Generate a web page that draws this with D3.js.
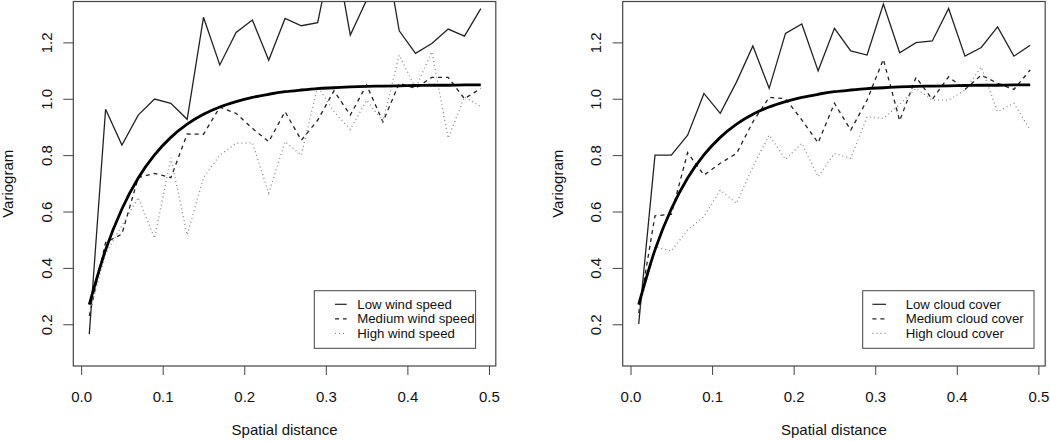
<!DOCTYPE html>
<html>
<head>
<meta charset="utf-8">
<title>Variogram by wind speed and cloud cover</title>
<script src="https://cdn.jsdelivr.net/npm/d3@7"></script>
<style>
  body { margin: 0; background: #fff; }
  svg text { font-family: "Liberation Sans", Arial, sans-serif; fill: #111; }
</style>
</head>
<body>
<svg id="svg"></svg>
<script>
// lag distances (bin centres)
var distances = [0.01, 0.03, 0.05, 0.07, 0.09, 0.11, 0.13, 0.15, 0.17, 0.19, 0.21, 0.23, 0.25,
                 0.27, 0.29, 0.31, 0.33, 0.35, 0.37, 0.39, 0.41, 0.43, 0.45, 0.47, 0.49];

// left panel: wind speed classes
var windLow    = [0.165, 0.963, 0.836, 0.942, 0.999, 0.984, 0.927, 1.289, 1.12, 1.235, 1.279, 1.137, 1.285,
                  1.259, 1.27, 1.55, 1.226, 1.35, 1.577, 1.241, 1.161, 1.196, 1.247, 1.222, 1.32];
var windMedium = [0.23, 0.49, 0.52, 0.72, 0.735, 0.72, 0.875, 0.874, 0.97, 0.948, 0.895, 0.848, 0.954,
                  0.853, 0.924, 1.028, 0.942, 1.049, 0.918, 1.055, 1.037, 1.076, 1.076, 1.0, 1.037];
var windHigh   = [0.24, 0.45, 0.55, 0.65, 0.505, 0.79, 0.517, 0.72, 0.80, 0.842, 0.844, 0.665, 0.848,
                  0.80, 1.045, 0.954, 0.891, 0.995, 0.92, 1.155, 1.037, 1.167, 0.86, 1.007, 0.972];

// right panel: cloud cover classes
var cloudLow    = [0.201, 0.80, 0.80, 0.871, 1.019, 0.948, 1.06, 1.187, 1.037, 1.232, 1.265, 1.099, 1.25,
                   1.17, 1.155, 1.336, 1.163, 1.199, 1.205, 1.32, 1.151, 1.182, 1.255, 1.151, 1.19];
var cloudMedium = [0.24, 0.585, 0.59, 0.809, 0.729, 0.771, 0.806, 0.918, 1.005, 1.0, 0.925, 0.844, 0.984,
                   0.889, 0.995, 1.14, 0.922, 1.076, 0.998, 1.078, 1.033, 1.084, 1.055, 1.033, 1.102];
var cloudHigh   = [0.25, 0.475, 0.46, 0.534, 0.582, 0.676, 0.629, 0.759, 0.871, 0.785, 0.842, 0.723, 0.806,
                   0.789, 0.936, 0.93, 0.98, 1.037, 0.995, 0.995, 1.031, 1.113, 0.954, 0.984, 0.889];

// fitted model curve (same in both panels)
var modelFit = [0.27, 0.464, 0.609, 0.719, 0.801, 0.863, 0.910, 0.945, 0.971, 0.990, 1.005, 1.016, 1.025,
                1.031, 1.036, 1.039, 1.042, 1.044, 1.045, 1.046, 1.047, 1.048, 1.048, 1.049, 1.049];

var xTicks = [0, 0.1, 0.2, 0.3, 0.4, 0.5];
var yTicks = [0.2, 0.4, 0.6, 0.8, 1.0, 1.2];
var windLabels  = ["Low wind speed", "Medium wind speed", "High wind speed"];
var cloudLabels = ["Low cloud cover", "Medium cloud cover", "High cloud cover"];

var width = 1050, height = 442;
var svg = d3.select("#svg").attr("width", width).attr("height", height);

var styles = [
  {stroke: "#222", width: 1.3, dash: null},
  {stroke: "#222", width: 1.3, dash: "4,4"},
  {stroke: "#888", width: 1.3, dash: "1,3"}
];

function panel(id, left, series, labels, legendX, sampleOff, sampleLen) {
  var top = 1.5, bottom = 366, w = 422.5;
  var x = d3.scaleLinear().domain([-0.0096, 0.5084]).range([left, left + w]);
  var y = d3.scaleLinear().domain([0.052, 1.345]).range([bottom, top]);

  var g = svg.append("g");

  svg.append("clipPath").attr("id", "clip" + id)
    .append("rect").attr("x", left).attr("y", top).attr("width", w).attr("height", bottom - top);

  // axes
  var ax = g.append("g").attr("transform", "translate(0," + bottom + ")")
    .call(d3.axisBottom(x).tickValues(xTicks).tickSize(9).tickPadding(16).tickFormat(d3.format(".1f")));
  ax.select(".domain").remove();
  ax.selectAll("line").attr("stroke", "#444");
  ax.selectAll("text").attr("font-size", 15).attr("fill", "#111");

  var ay = g.append("g").attr("transform", "translate(" + left + ",0)")
    .call(d3.axisLeft(y).tickValues(yTicks).tickSize(10).tickFormat(d3.format(".1f")));
  ay.select(".domain").remove();
  ay.selectAll("line").attr("stroke", "#444");
  ay.selectAll("text").remove();
  ay.selectAll(".tick").append("text")
    .attr("transform", "translate(-21.5,0) rotate(-90)")
    .attr("text-anchor", "middle")
    .attr("font-size", 15)
    .text(function(d) { return d3.format(".1f")(d); });

  g.append("text")
    .attr("transform", "translate(" + (left - 60) + "," + ((top + bottom) / 2) + ") rotate(-90)")
    .attr("text-anchor", "middle").attr("font-size", 15)
    .text("Variogram");

  g.append("text")
    .attr("x", left + w / 2).attr("y", 435)
    .attr("text-anchor", "middle").attr("font-size", 15)
    .text("Spatial distance");

  // lines
  var lines = g.append("g").attr("clip-path", "url(#clip" + id + ")");
  var line = d3.line().x(function(d, i) { return x(distances[i]); }).y(function(d) { return y(d); });

  series.forEach(function(s, k) {
    lines.append("path").datum(s)
      .attr("fill", "none")
      .attr("stroke", styles[k].stroke)
      .attr("stroke-width", styles[k].width)
      .attr("stroke-dasharray", styles[k].dash)
      .attr("d", line);
  });

  lines.append("path").datum(modelFit)
    .attr("fill", "none").attr("stroke", "#000").attr("stroke-width", 2.8)
    .attr("d", line.curve(d3.curveMonotoneX));

  // box
  g.append("rect").attr("x", left).attr("y", top).attr("width", w).attr("height", bottom - top)
    .attr("fill", "none").attr("stroke", "#444").attr("stroke-width", 1.2);

  // legend
  var lg = g.append("g");
  lg.append("rect").attr("x", legendX).attr("y", 290.7).attr("width", 1034 - 862.7 - (id === 0 ? 10 : 0))
    .attr("height", 57.6).attr("fill", "#fff").attr("stroke", "#444");
  labels.forEach(function(lab, k) {
    var ly = 304.3 + k * 14.5;
    lg.append("line")
      .attr("x1", legendX + sampleOff).attr("x2", legendX + sampleOff + sampleLen)
      .attr("y1", ly).attr("y2", ly)
      .attr("stroke", styles[k].stroke).attr("stroke-width", 1.2)
      .attr("stroke-dasharray", styles[k].dash);
    lg.append("text")
      .attr("x", legendX + 43).attr("y", ly + 4.6)
      .attr("font-size", 13.2)
      .text(lab);
  });
}

panel(0, 73.3, [windLow, windMedium, windHigh], windLabels, 314.3, 20.7, 11.7);
panel(1, 622.7, [cloudLow, cloudMedium, cloudHigh], cloudLabels, 862.7, 9.7, 13.7);
</script>
</body>
</html>
